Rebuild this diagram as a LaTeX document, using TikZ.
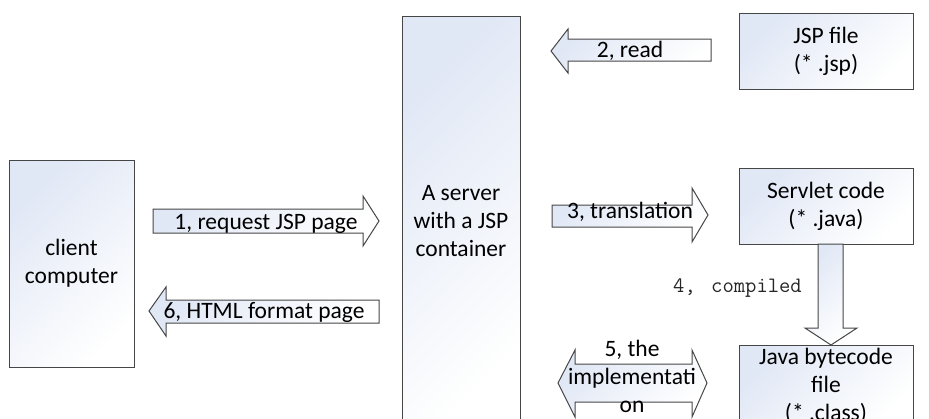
\documentclass[tikz,border=0pt]{standalone}
\usepackage{fontspec}
\setmainfont{Carlito}
\definecolor{boxblue}{RGB}{224,231,245}
\definecolor{linegray}{RGB}{70,70,70}
\newcommand\mainfs{\fontsize{23.5}{28}\selectfont}
\tikzset{
  box/.style={draw=linegray, line width=1pt, top color=boxblue, bottom color=white,
    shading angle=45, inner sep=0pt, align=center, font=\mainfs},
  barrow/.style={draw=linegray, line width=1pt, top color=boxblue, bottom color=white,
    shading angle=45, line join=miter},
  lbl/.style={align=center, font=\mainfs, inner sep=0pt}
}
\begin{document}
\begin{tikzpicture}[x=1pt,y=-1pt]
\useasboundingbox (0,0) rectangle (929,418);
% boxes
\node[box, minimum width=125, minimum height=207] (client) at (71.5,263.5) {client\\computer};
\node[box, minimum width=118, minimum height=410] (server) at (461,221) {A server\\with a JSP\\container};
\node[box, minimum width=174, minimum height=76] (jsp) at (826,51) {JSP file\\(* .jsp)};
\node[box, minimum width=174, minimum height=76] (servlet) at (826,206) {Servlet code\\(* .java)};
\node[box, minimum width=174, minimum height=80] (javabc) at (826,385) {};
\node[lbl] (javatxt) at (826,386) {Java bytecode\\file\\(* .class)};
% block arrows
\draw[barrow] (153,209) -- (363,209) -- (363,196) -- (379,221) -- (363,246) -- (363,233) -- (153,233) -- cycle;
\draw[barrow] (149,311) -- (166,287) -- (166,300) -- (379,300) -- (379,323) -- (166,323) -- (166,336) -- cycle;
\draw[barrow] (551,51) -- (568,29) -- (568,39) -- (711,39) -- (711,61) -- (568,61) -- (568,73) -- cycle;
\draw[barrow] (552,205) -- (692,205) -- (692,188) -- (708,215) -- (692,242) -- (692,227) -- (552,227) -- cycle;
\draw[barrow] (818,244) -- (843,244) -- (843,328) -- (857,328) -- (831,345) -- (805,328) -- (818,328) -- cycle;
\draw[barrow] (558,383) -- (575,350) -- (575,364) -- (692,364) -- (692,350) -- (707,383) -- (692,417) -- (692,402) -- (575,402) -- (575,417) -- cycle;
% labels
\node[lbl, anchor=base] (l1) at (266,229) {1, request JSP page};
\node[lbl, anchor=base] (l6) at (264,318) {6, HTML format page};
\node[lbl, anchor=base] (l2) at (630,57) {2, read};
\node[lbl, anchor=base] (l3) at (630,218) {3, translation};
\node[lbl] (l5) at (632,376) {5, the\\implementati\\on};
\node[inner sep=0pt, anchor=base west, font=\fontsize{22}{26}\ttfamily, text=black!85] (l4) at (673,292) {4,\hspace{4pt} compiled};
\end{tikzpicture}
\end{document}
